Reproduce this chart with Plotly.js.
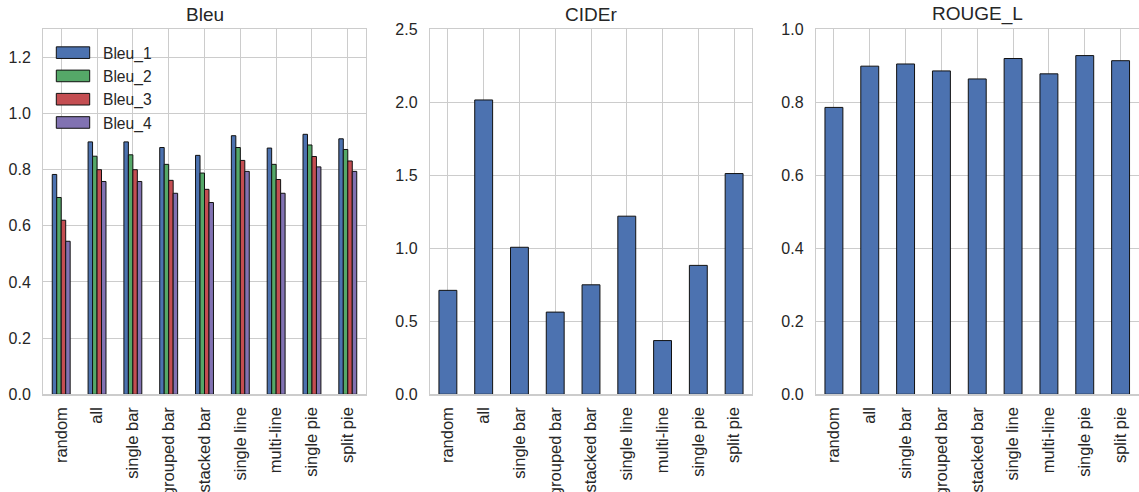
<!DOCTYPE html>
<html>
<head>
<meta charset="utf-8">
<script src="https://cdn.plot.ly/plotly-3.0.1.min.js"></script>
<style>
html,body{margin:0;padding:0;background:#fff;}
#chart{width:1139px;height:492px;}
</style>
</head>
<body>
<div id="chart"></div>
<script>
// ---- data ----
const categories = ["random", "all", "single bar", "grouped bar", "stacked bar", "single line", "multi-line", "single pie", "split pie"];
const bleu1 = [0.783, 0.899, 0.899, 0.879, 0.851, 0.921, 0.877, 0.926, 0.910];
const bleu2 = [0.701, 0.848, 0.853, 0.819, 0.788, 0.879, 0.819, 0.888, 0.872];
const bleu3 = [0.620, 0.800, 0.800, 0.762, 0.730, 0.833, 0.765, 0.847, 0.831];
const bleu4 = [0.545, 0.758, 0.758, 0.716, 0.683, 0.794, 0.716, 0.810, 0.794];
const cider = [0.712, 2.016, 1.007, 0.563, 0.750, 1.220, 0.368, 0.883, 1.512];
const rouge = [0.786, 0.899, 0.905, 0.886, 0.864, 0.920, 0.878, 0.928, 0.914];
const bleuNames = ["Bleu_1", "Bleu_2", "Bleu_3", "Bleu_4"];
const panelTitles = ["Bleu", "CIDEr", "ROUGE_L"];
const bleuTicks = [0.0, 0.2, 0.4, 0.6, 0.8, 1.0, 1.2];
const ciderTicks = [0.0, 0.5, 1.0, 1.5, 2.0, 2.5];
const rougeTicks = [0.0, 0.2, 0.4, 0.6, 0.8, 1.0];

// ---- styling ----
const colors = ["#4C72B0", "#55A868", "#C44E52", "#8172B2"];
const W = 1139, H = 492;
const FONT = "Liberation Sans, Arial, sans-serif";
const TXT = "#262626";
const GRID = "#cccccc";

const bleuSeries = [bleu1, bleu2, bleu3, bleu4];
const traces = [];
bleuSeries.forEach((vals, i) => {
  traces.push({
    type: "bar", x: categories, y: vals, name: bleuNames[i],
    xaxis: "x", yaxis: "y",
    marker: {color: colors[i], line: {color: "#111111", width: 1}},
    hoverinfo: "skip"
  });
});
traces.push({type: "bar", x: categories, y: cider, name: "CIDEr", xaxis: "x2", yaxis: "y2",
  marker: {color: colors[0], line: {color: "#111111", width: 1}}, showlegend: false, hoverinfo: "skip"});
traces.push({type: "bar", x: categories, y: rouge, name: "ROUGE_L", xaxis: "x3", yaxis: "y3",
  marker: {color: colors[0], line: {color: "#111111", width: 1}}, showlegend: false, hoverinfo: "skip"});

const px = v => v / W;
const yDom = [1 - 394.3 / H, 1 - 29.3 / H];
const xDoms = [[px(43.3), px(365.7)], [px(430), px(752)], [px(816), px(1138.5)]];

function xAxis(dom, anchor) {
  return {
    domain: dom, anchor: anchor, type: "category", categoryorder: "array", categoryarray: categories,
    range: [-0.5, categories.length - 0.5],
    showgrid: true, gridcolor: GRID, gridwidth: 1,
    showline: true, linecolor: GRID, linewidth: 1.25, mirror: true,
    ticks: "", tickangle: -90, ticklabelstandoff: 5,
    tickfont: {family: FONT, size: 16.5, color: TXT}, zeroline: false, fixedrange: true
  };
}
function yAxis(anchor, range, ticks) {
  return {
    domain: yDom, anchor: anchor, range: range, tickvals: ticks, ticktext: ticks.map(t => t.toFixed(1)),
    showgrid: true, gridcolor: GRID, gridwidth: 1,
    showline: true, linecolor: GRID, linewidth: 1.25, mirror: true,
    ticks: "", ticklabelstandoff: 8, zeroline: false,
    tickfont: {family: FONT, size: 16, color: TXT}, fixedrange: true
  };
}

const annotations = panelTitles.map((t, i) => ({
  text: t, xref: (i === 0 ? "x" : "x" + (i + 1)) + " domain", yref: "paper",
  x: 0.5, y: yDom[1], xanchor: "center", yanchor: "bottom", yshift: 2, showarrow: false,
  font: {family: FONT, size: 19, color: TXT}
}));

const layout = {
  width: W, height: H, margin: {l: 0, r: 0, t: 0, b: 0},
  paper_bgcolor: "#ffffff", plot_bgcolor: "#ffffff",
  barmode: "group", bargap: 0.5, bargroupgap: 0,
  font: {family: FONT, size: 16, color: TXT},
  xaxis: xAxis(xDoms[0], "y"), yaxis: yAxis("x", [0, 1.3], bleuTicks),
  xaxis2: xAxis(xDoms[1], "y2"), yaxis2: yAxis("x2", [0, 2.5], ciderTicks),
  xaxis3: xAxis(xDoms[2], "y3"), yaxis3: yAxis("x3", [0, 1.0], rougeTicks),
  showlegend: true,
  legend: {x: px(43), y: 1 - 36 / H, xanchor: "left", yanchor: "top", bgcolor: "rgba(0,0,0,0)",
    borderwidth: 0, itemwidth: 50, font: {family: FONT, size: 15.6, color: TXT}, tracegroupgap: 0},
  annotations: annotations
};

Plotly.newPlot("chart", traces, layout, {staticPlot: true, displayModeBar: false}).then(gd => {
  // widen legend patches to match the reference's rectangular swatches
  gd.querySelectorAll(".legend .legendpoints path").forEach(p => {
    p.setAttribute("d", "M16.7,5.8H-16.7V-5.8H16.7Z");
  });
});
</script>
</body>
</html>
